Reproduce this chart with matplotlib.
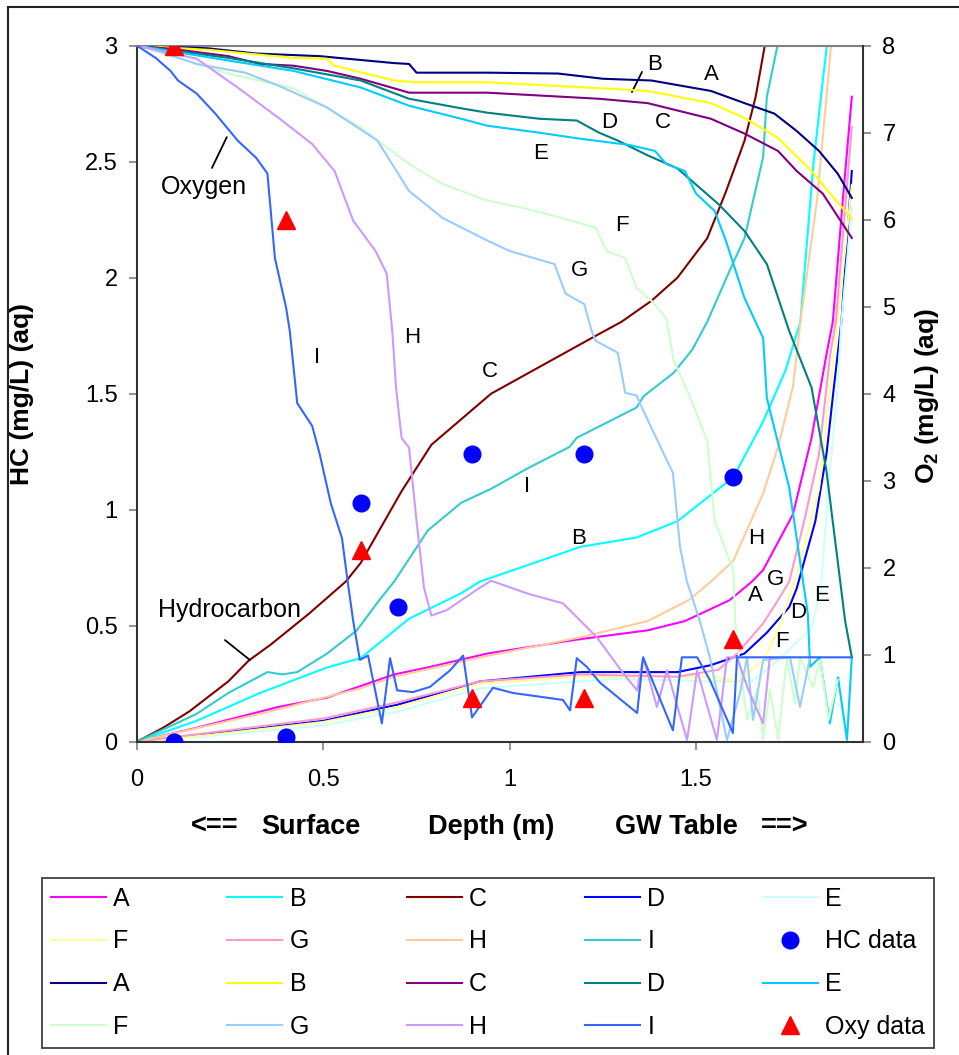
import matplotlib
matplotlib.use("Agg")
import matplotlib.pyplot as plt
from matplotlib.patches import Rectangle

plt.rcParams['font.family'] = ['Liberation Sans', 'DejaVu Sans']
plt.rcParams['mathtext.fontset'] = 'custom'
plt.rcParams['mathtext.rm'] = 'Liberation Sans'
plt.rcParams['mathtext.bf'] = 'Liberation Sans:bold'

# ---- hydrocarbon model curves (left axis, mg/L) ----
hc_A_x = [0, 0.16, 0.38, 0.51, 0.69, 0.78, 0.94, 1.18, 1.37, 1.47, 1.59, 1.65, 1.68, 1.76, 1.81, 1.85, 1.867, 1.894, 1.918]
hc_A_y = [0, 0.06, 0.15, 0.19, 0.29, 0.32, 0.38, 0.44, 0.48, 0.52, 0.61, 0.69, 0.74, 0.98, 1.31, 1.67, 1.81, 2.34, 2.78]
hc_B_x = [0, 0.16, 0.33, 0.51, 0.6, 0.73, 0.87, 0.92, 1.19, 1.34, 1.45, 1.6, 1.68, 1.74, 1.78, 1.815, 1.84, 1.855]
hc_B_y = [0, 0.09, 0.21, 0.32, 0.36, 0.53, 0.64, 0.69, 0.84, 0.88, 0.95, 1.14, 1.38, 1.60, 1.81, 2.49, 2.85, 3.05]
hc_C_x = [0, 0.07, 0.14, 0.245, 0.3, 0.36, 0.46, 0.56, 0.6, 0.71, 0.79, 0.95, 1.22, 1.3, 1.38, 1.45, 1.53, 1.58, 1.63, 1.66, 1.69]
hc_C_y = [0, 0.06, 0.13, 0.26, 0.35, 0.42, 0.55, 0.69, 0.77, 1.08, 1.28, 1.50, 1.74, 1.81, 1.90, 2.0, 2.17, 2.37, 2.59, 2.78, 3.05]
hc_D_x = [0, 0.2, 0.5, 0.7, 0.92, 1.19, 1.45, 1.54, 1.63, 1.69, 1.75, 1.77, 1.82, 1.85, 1.87, 1.89, 1.918]
hc_D_y = [0, 0.035, 0.09, 0.16, 0.26, 0.30, 0.30, 0.33, 0.38, 0.47, 0.58, 0.66, 0.95, 1.24, 1.53, 1.81, 2.46]
hc_E_x = [0, 0.2, 0.5, 0.7, 0.92, 1.28, 1.54, 1.65, 1.72, 1.81, 1.835, 1.855, 1.88, 1.89, 1.918]
hc_E_y = [0, 0.025, 0.07, 0.13, 0.23, 0.27, 0.26, 0.26, 0.35, 0.49, 0.66, 1.09, 1.53, 1.81, 2.3]
hc_F_x = [0, 0.2, 0.5, 0.7, 0.92, 1.19, 1.54, 1.61, 1.68, 1.72, 1.77, 1.83, 1.85, 1.88, 1.918]
hc_F_y = [0, 0.03, 0.085, 0.15, 0.25, 0.28, 0.28, 0.26, 0.35, 0.48, 0.72, 1.09, 1.38, 1.81, 2.4]
hc_G_x = [0, 0.2, 0.5, 0.7, 0.92, 1.19, 1.45, 1.56, 1.61, 1.68, 1.72, 1.75, 1.79, 1.83, 1.86, 1.875, 1.918]
hc_G_y = [0, 0.04, 0.10, 0.17, 0.26, 0.29, 0.28, 0.31, 0.38, 0.51, 0.61, 0.69, 0.95, 1.24, 1.67, 1.81, 2.65]
hc_H_x = [0, 0.33, 0.6, 0.69, 0.94, 1.19, 1.37, 1.48, 1.54, 1.6, 1.68, 1.72, 1.76, 1.78, 1.825, 1.85, 1.865]
hc_H_y = [0, 0.12, 0.23, 0.28, 0.37, 0.45, 0.52, 0.61, 0.69, 0.78, 1.07, 1.27, 1.53, 1.81, 2.34, 2.78, 3.05]
hc_I_x = [0, 0.16, 0.245, 0.35, 0.39, 0.43, 0.51, 0.59, 0.65, 0.69, 0.78, 0.87, 0.95, 1.05, 1.16, 1.18, 1.34, 1.36,
          1.44, 1.49, 1.53, 1.59, 1.63, 1.68, 1.69, 1.725]
hc_I_y = [0, 0.12, 0.21, 0.30, 0.29, 0.30, 0.38, 0.48, 0.61, 0.69, 0.91, 1.03, 1.09, 1.18, 1.27, 1.31, 1.44, 1.49,
          1.59, 1.69, 1.81, 2.03, 2.17, 2.52, 2.78, 3.05]

# ---- oxygen model curves (right axis, mg/L) ----
ox_A_x = [0, 0.19, 0.32, 0.49, 0.69, 0.73, 0.75, 0.94, 1.13, 1.25, 1.38, 1.54, 1.63, 1.71, 1.77, 1.83, 1.88, 1.918]
ox_A_y = [8.0, 7.97, 7.91, 7.88, 7.80, 7.79, 7.69, 7.69, 7.68, 7.62, 7.60, 7.48, 7.34, 7.22, 7.02, 6.79, 6.53, 6.25]
ox_B_x = [0, 0.2, 0.32, 0.42, 0.51, 0.53, 0.69, 0.75, 0.94, 1.25, 1.37, 1.54, 1.63, 1.72, 1.81, 1.86, 1.918]
ox_B_y = [8.0, 7.95, 7.9, 7.86, 7.85, 7.77, 7.60, 7.58, 7.58, 7.51, 7.48, 7.34, 7.17, 6.94, 6.56, 6.30, 6.01]
ox_C_x = [0, 0.1, 0.245, 0.33, 0.42, 0.51, 0.6, 0.69, 0.73, 0.94, 1.24, 1.37, 1.54, 1.63, 1.72, 1.77, 1.84, 1.918]
ox_C_y = [8.0, 7.96, 7.88, 7.79, 7.77, 7.71, 7.62, 7.51, 7.46, 7.46, 7.39, 7.34, 7.16, 6.99, 6.79, 6.56, 6.30, 5.79]
ox_D_x = [0, 0.245, 0.42, 0.6, 0.73, 0.87, 0.94, 1.08, 1.18, 1.24, 1.29, 1.37, 1.45, 1.56, 1.63, 1.69, 1.75, 1.81,
          1.85, 1.90, 1.918]
ox_D_y = [8.0, 7.86, 7.74, 7.60, 7.39, 7.28, 7.23, 7.16, 7.14, 7.00, 6.91, 6.74, 6.59, 6.18, 5.87, 5.49, 4.72, 4.07,
          3.11, 1.39, 0.97]
ox_E_x = [0, 0.245, 0.42, 0.6, 0.73, 0.87, 0.94, 1.08, 1.19, 1.32, 1.39, 1.42, 1.47, 1.50, 1.55, 1.58, 1.63, 1.68,
          1.69, 1.75, 1.80, 1.806, 1.832, 1.859, 1.881, 1.905, 1.918]
ox_E_y = [8.0, 7.83, 7.71, 7.52, 7.31, 7.16, 7.08, 7.00, 6.93, 6.86, 6.79, 6.64, 6.56, 6.30, 6.10, 5.76, 5.10, 4.64,
          3.95, 2.92, 1.47, 0.86, 0.97, 0.21, 0.74, 0.02, 0.97]
ox_F_x = [0, 0.245, 0.42, 0.6, 0.73, 0.82, 0.94, 1.03, 1.14, 1.23, 1.26, 1.31, 1.34, 1.38, 1.42, 1.44, 1.48, 1.53,
          1.55, 1.60, 1.605, 1.615, 1.637, 1.664, 1.68, 1.698, 1.72, 1.744, 1.765, 1.779, 1.814, 1.833, 1.856, 1.88]
ox_F_y = [8.0, 7.68, 7.51, 7.06, 6.64, 6.41, 6.22, 6.14, 6.02, 5.91, 5.64, 5.56, 5.22, 5.07, 4.87, 4.38, 4.00, 3.46,
          2.54, 1.97, 1.39, 0.97, 0.25, 0.6, 0.02, 0.6, 0.02, 0.97, 0.44, 0.97, 0.63, 0.94, 0.25, 0.71]
ox_G_x = [0, 0.05, 0.16, 0.29, 0.38, 0.51, 0.645, 0.73, 0.82, 0.94, 1.0, 1.12, 1.15, 1.20, 1.22, 1.23, 1.29, 1.31,
          1.34, 1.38, 1.438, 1.457, 1.475, 1.51, 1.537, 1.583, 1.618, 1.637, 1.653, 1.68, 1.752, 1.779, 1.806]
ox_G_y = [8.0, 7.95, 7.79, 7.69, 7.54, 7.29, 6.91, 6.33, 6.02, 5.76, 5.64, 5.49, 5.15, 5.03, 4.72, 4.61, 4.47, 4.01,
          3.98, 3.61, 3.09, 2.24, 1.85, 1.39, 0.97, 0.02, 0.56, 0.97, 0.25, 0.94, 0.97, 0.40, 0.97]
ox_H_x = [0, 0.16, 0.27, 0.38, 0.47, 0.53, 0.58, 0.64, 0.67, 0.685, 0.695, 0.71, 0.73, 0.75, 0.77, 0.79, 0.83, 0.92,
          0.95, 1.05, 1.143, 1.234, 1.304, 1.342, 1.358, 1.395, 1.422, 1.476, 1.503, 1.556, 1.583, 1.61, 1.64, 1.68, 1.698]
ox_H_y = [8.0, 7.85, 7.52, 7.17, 6.87, 6.56, 5.99, 5.64, 5.38, 4.72, 4.07, 3.49, 3.38, 2.54, 1.77, 1.45, 1.51, 1.77,
          1.85, 1.70, 1.59, 1.20, 0.79, 0.59, 0.97, 0.40, 0.82, 0.02, 0.82, 0.02, 0.97, 0.97, 0.6, 0.21, 0.97]
ox_I_x = [0, 0.05, 0.09, 0.11, 0.16, 0.21, 0.27, 0.32, 0.35, 0.37, 0.40, 0.41, 0.43, 0.47, 0.49, 0.52, 0.55, 0.565,
          0.58, 0.598, 0.62, 0.657, 0.679, 0.698, 0.74, 0.786, 0.84, 0.875, 0.899, 0.955, 1.009, 1.143, 1.162, 1.18,
          1.207, 1.242, 1.342, 1.358, 1.385, 1.438, 1.462, 1.503, 1.537, 1.599, 1.61, 1.918]
ox_I_y = [8.0, 7.86, 7.71, 7.60, 7.45, 7.22, 6.91, 6.71, 6.53, 5.56, 4.99, 4.72, 3.89, 3.63, 3.31, 2.74, 2.34, 1.85,
          1.39, 0.94, 0.99, 0.21, 0.96, 0.59, 0.57, 0.63, 0.82, 0.99, 0.28, 0.62, 0.56, 0.48, 0.36, 0.96,
          0.86, 0.68, 0.33, 0.97, 0.68, 0.13, 0.97, 0.97, 0.71, 0.10, 0.97, 0.97]

# ---- measured data ----
hc_data_x = [0.1, 0.4, 0.6, 0.7, 0.9, 1.2, 1.6]
hc_data_y = [0.0, 0.02, 1.03, 0.58, 1.24, 1.24, 1.14]
oxy_data_x = [0.1, 0.4, 0.6, 0.9, 1.2, 1.6]
oxy_data_y = [8.0, 6.0, 2.2, 0.5, 0.5, 1.18]

labels = ['A', 'B', 'C', 'D', 'E', 'F', 'G', 'H', 'I']
hc_colors = ['#FF00FF', '#00FFFF', '#800000', '#0000FF', '#CCFFFF', '#FFFF99', '#FF99CC', '#FFCC99', '#33CCCC']
ox_colors = ['#000080', '#FFFF00', '#800080', '#008080', '#00CCFF', '#CCFFCC', '#99CCFF', '#CC99FF', '#3366FF']

hc_curves = [(hc_A_x, hc_A_y), (hc_B_x, hc_B_y), (hc_C_x, hc_C_y), (hc_D_x, hc_D_y), (hc_E_x, hc_E_y),
             (hc_F_x, hc_F_y), (hc_G_x, hc_G_y), (hc_H_x, hc_H_y), (hc_I_x, hc_I_y)]
ox_curves = [(ox_A_x, ox_A_y), (ox_B_x, ox_B_y), (ox_C_x, ox_C_y), (ox_D_x, ox_D_y), (ox_E_x, ox_E_y),
             (ox_F_x, ox_F_y), (ox_G_x, ox_G_y), (ox_H_x, ox_H_y), (ox_I_x, ox_I_y)]

W, H = 959, 1055
fig = plt.figure(figsize=(W / 100, H / 100), dpi=100)
ax = fig.add_axes([137 / W, 1 - 741.7 / H, (863 - 137) / W, (741.7 - 45.7) / H])
ax2 = ax.twinx()

hc_lines = []
for (x, y), c, lab in zip(hc_curves, hc_colors, labels):
    ln, = ax.plot(x, y, color=c, lw=1.5, label=lab)
    hc_lines.append(ln)
ox_lines = []
for (x, y), c, lab in zip(ox_curves, ox_colors, labels):
    ln, = ax2.plot(x, y, color=c, lw=1.5, label=lab)
    ox_lines.append(ln)

# markers drawn on top (ax2 layer), HC data uses left-axis scale
hc_pts, = ax2.plot(hc_data_x, hc_data_y, 'o', color='#0000FF', ms=12, transform=ax.transData,
                   label='HC data', zorder=5)
oxy_pts, = ax2.plot(oxy_data_x, oxy_data_y, '^', color='#FF0000', ms=13, mec='#FF0000',
                    label='Oxy data', zorder=5)

ax.set_xlim(0, 1.948)
ax.set_ylim(0, 3)
ax2.set_ylim(0, 8)
ax.set_xticks([0, 0.5, 1, 1.5])
ax.set_xticklabels(['0', '0.5', '1', '1.5'])
ax.set_yticks([0, 0.5, 1, 1.5, 2, 2.5, 3])
ax.set_yticklabels(['0', '0.5', '1', '1.5', '2', '2.5', '3'])
ax2.set_yticks(range(9))

dark = '#333333'
for a in (ax, ax2):
    for s in a.spines.values():
        s.set_visible(False)
ax.spines['left'].set_visible(True)
ax.spines['bottom'].set_visible(True)
ax.spines['top'].set_visible(True)
ax2.spines['right'].set_visible(True)
for s in (ax.spines['left'], ax.spines['bottom'], ax2.spines['right']):
    s.set_color(dark)
    s.set_linewidth(1.5)
ax.spines['top'].set_color('#808080')
ax.spines['top'].set_linewidth(1.5)

ax.tick_params(axis='y', direction='out', length=6, width=1.2, color='#808080', labelsize=17, pad=8)
ax.tick_params(axis='x', direction='out', length=6, width=1.2, color='#808080', labelsize=17, pad=14)
ax2.tick_params(axis='y', direction='out', length=6, width=1.2, color='#808080', labelsize=17, pad=8)

# curve labels
txt_kw = dict(fontsize=16, ha='center', va='center')
ax.text(1.39, 2.917, 'B', **txt_kw)
ax.text(1.54, 2.874, 'A', **txt_kw)
ax.text(1.266, 2.667, 'D', **txt_kw)
ax.text(1.411, 2.667, 'C', **txt_kw)
ax.text(1.084, 2.537, 'E', **txt_kw)
ax.text(1.301, 2.227, 'F', **txt_kw)
ax.text(1.188, 2.033, 'G', **txt_kw)
ax.text(0.738, 1.744, 'H', **txt_kw)
ax.text(0.483, 1.658, 'I', **txt_kw)
ax.text(0.947, 1.594, 'C', **txt_kw)
ax.text(1.046, 1.098, 'I', **txt_kw)
ax.text(1.186, 0.878, 'B', **txt_kw)
ax.text(1.661, 0.878, 'H', **txt_kw)
ax.text(1.712, 0.697, 'G', **txt_kw)
ax.text(1.658, 0.632, 'A', **txt_kw)
ax.text(1.774, 0.559, 'D', **txt_kw)
ax.text(1.838, 0.632, 'E', **txt_kw)
ax.text(1.731, 0.430, 'F', **txt_kw)
ax.text(0.18, 2.39, 'Oxygen', fontsize=18, ha='center', va='center')
ax.text(0.247, 0.568, 'Hydrocarbon', fontsize=18, ha='center', va='center')
lk = dict(arrowprops=dict(arrowstyle='-', color='black', lw=1.3, shrinkA=0, shrinkB=0))
ax.annotate('', xy=(0.241, 2.606), xytext=(0.201, 2.473), **lk)
ax.annotate('', xy=(0.303, 0.352), xytext=(0.236, 0.438), **lk)
ax.annotate('', xy=(1.355, 2.887), xytext=(1.328, 2.80), **lk)

# axis titles
fig.text(22 / W, 1 - 394 / H, 'HC (mg/L) (aq)', rotation=90, ha='center', va='center',
         fontsize=19, fontweight='bold')
fig.text(927 / W, 1 - 396 / H, r'O$_\mathbf{2}$ (mg/L) (aq)', rotation=90, ha='center', va='center',
         fontsize=19, fontweight='bold')
bk = dict(fontsize=19.5, fontweight='bold', ha='center', va='center')
fig.text(215 / W, 1 - 827 / H, '<==', **bk)
fig.text(311 / W, 1 - 827 / H, 'Surface', **bk)
fig.text(491 / W, 1 - 827 / H, 'Depth (m)', **bk)
fig.text(676 / W, 1 - 827 / H, 'GW Table', **bk)
fig.text(785 / W, 1 - 827 / H, '==>', **bk)

# legend laid out row by row (A..E / F..I, HC data / A..E / F..I, Oxy data)
rows = [hc_lines[:5], hc_lines[5:] + [hc_pts], ox_lines[:5], ox_lines[5:] + [oxy_pts]]
handles = [rows[r][c] for c in range(5) for r in range(4)]
leg = fig.legend(handles=handles, labels=[h.get_label() for h in handles], ncol=5,
                 loc='upper left', bbox_to_anchor=(42 / W, 1 - 878 / H), bbox_transform=fig.transFigure,
                 borderaxespad=0, fontsize=18, handlelength=2.2, handletextpad=0.3, columnspacing=3.9,
                 labelspacing=0.75, borderpad=0.35, fancybox=False, framealpha=1, numpoints=1)
leg.get_frame().set_edgecolor('#404040')
leg.get_frame().set_linewidth(1.3)

fig.patches.append(Rectangle((8 / W, -0.05), 1.2, 1 - 7 / H + 0.05, transform=fig.transFigure,
                             fill=False, ec='#222222', lw=1.5))

fig.savefig('out.png', dpi=100)
